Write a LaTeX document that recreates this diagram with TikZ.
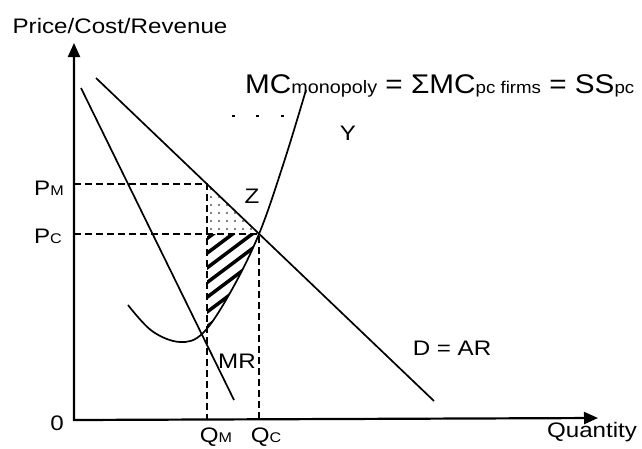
\documentclass[tikz,border=0pt]{standalone}
\usepackage{fontspec}
\setmainfont{Liberation Sans}
\usetikzlibrary{arrows.meta}
\newcommand\wide[1]{\scalebox{1.15}[1]{#1}}
\newcommand\sm[1]{{\fontsize{14}{14}\selectfont #1}}
\newcommand\mcpath{plot[smooth,tension=0.6] coordinates {(128,305) (152,331) (180,342) (203,333) (230,293) (259,234) (284,162) (306,90)}}
\begin{document}
\begin{tikzpicture}[
x=1pt,y=-1pt,
every node/.style={inner sep=0pt},
axis/.style={line width=2.2pt,{Triangle[length=14pt,width=12pt]}-{Triangle[length=14pt,width=12pt]}},
curve/.style={line width=1.7pt},
guide/.style={line width=1.7pt,dash pattern=on 7pt off 4pt},
lbl/.style={font=\fontsize{21}{24}\selectfont}
]
\useasboundingbox (0,0) rectangle (642,448);
\coordinate (O) at (74,420);
\coordinate (ytop) at (74,43);
\coordinate (xend) at (598,418);
\coordinate (dtop) at (96,78);
\coordinate (dbot) at (434,401);
\coordinate (mrtop) at (81,88);
\coordinate (mrbot) at (234,400);
\coordinate (M) at (207,184);
\coordinate (C) at (259,234);
\coordinate (MC) at (207,234);

\begin{scope}
\clip (M) -- (MC) -- (C) -- cycle;
\foreach \i in {0,...,7}
  \foreach \j in {0,...,6}
    \fill (211+8*\i,189+8*\j) circle[radius=0.9pt];
\end{scope}
\begin{scope}
\clip (MC) rectangle (C |- 0,345);
\clip \mcpath -- (310,40) -- (60,40) -- (60,305) -- cycle;
\foreach \k in {0,...,7}
  \draw[line width=3.5pt] (205,240+14.7*\k) -- ++(80,-60);
\end{scope}

\draw[axis] (ytop) -- (O) -- (xend);
\draw[curve] (dtop) -- (dbot);
\draw[curve] (mrtop) -- (mrbot);
\draw[curve] \mcpath;
\draw[guide] (O |- M) -- (M) -- (M |- O);
\draw[guide] (O |- C) -- (C) -- (C |- O);
\foreach \x in {233,257,282}
  \fill (\x-1.5,115) rectangle (\x+1.5,117);

\node[lbl] (price) at (120,26) {\wide{Price/Cost/Revenue}};
\node[lbl] (qty) at (592,432) {\wide{Quantity}};
\node[lbl] (zero) at (57,423) {\wide{0}};
\node[lbl] (pm) at (49,188) {\wide{P\sm{M}}};
\node[lbl] (pc) at (48,236) {\wide{P\sm{C}}};
\node[lbl] (qm) at (216,437) {\wide{Q\sm{M}}};
\node[lbl] (qc) at (266,437) {\wide{Q\sm{C}}};
\node[lbl] (mr) at (237,361) {\wide{MR}};
\node[lbl] (dar) at (452,348) {\wide{D = AR}};
\node[lbl] (z) at (252,196) {\wide{Z}};
\node[lbl] (y) at (348,133) {\wide{Y}};
\node[anchor=base west,font=\fontsize{27}{30}\selectfont] (mclbl) at (245,93)
  {\scalebox{1.1}[1]{MC{\fontsize{18}{18}\selectfont monopoly} = ΣMC{\fontsize{17}{17}\selectfont pc firms} = SS{\fontsize{17}{17}\selectfont pc}}};
\end{tikzpicture}
\end{document}
